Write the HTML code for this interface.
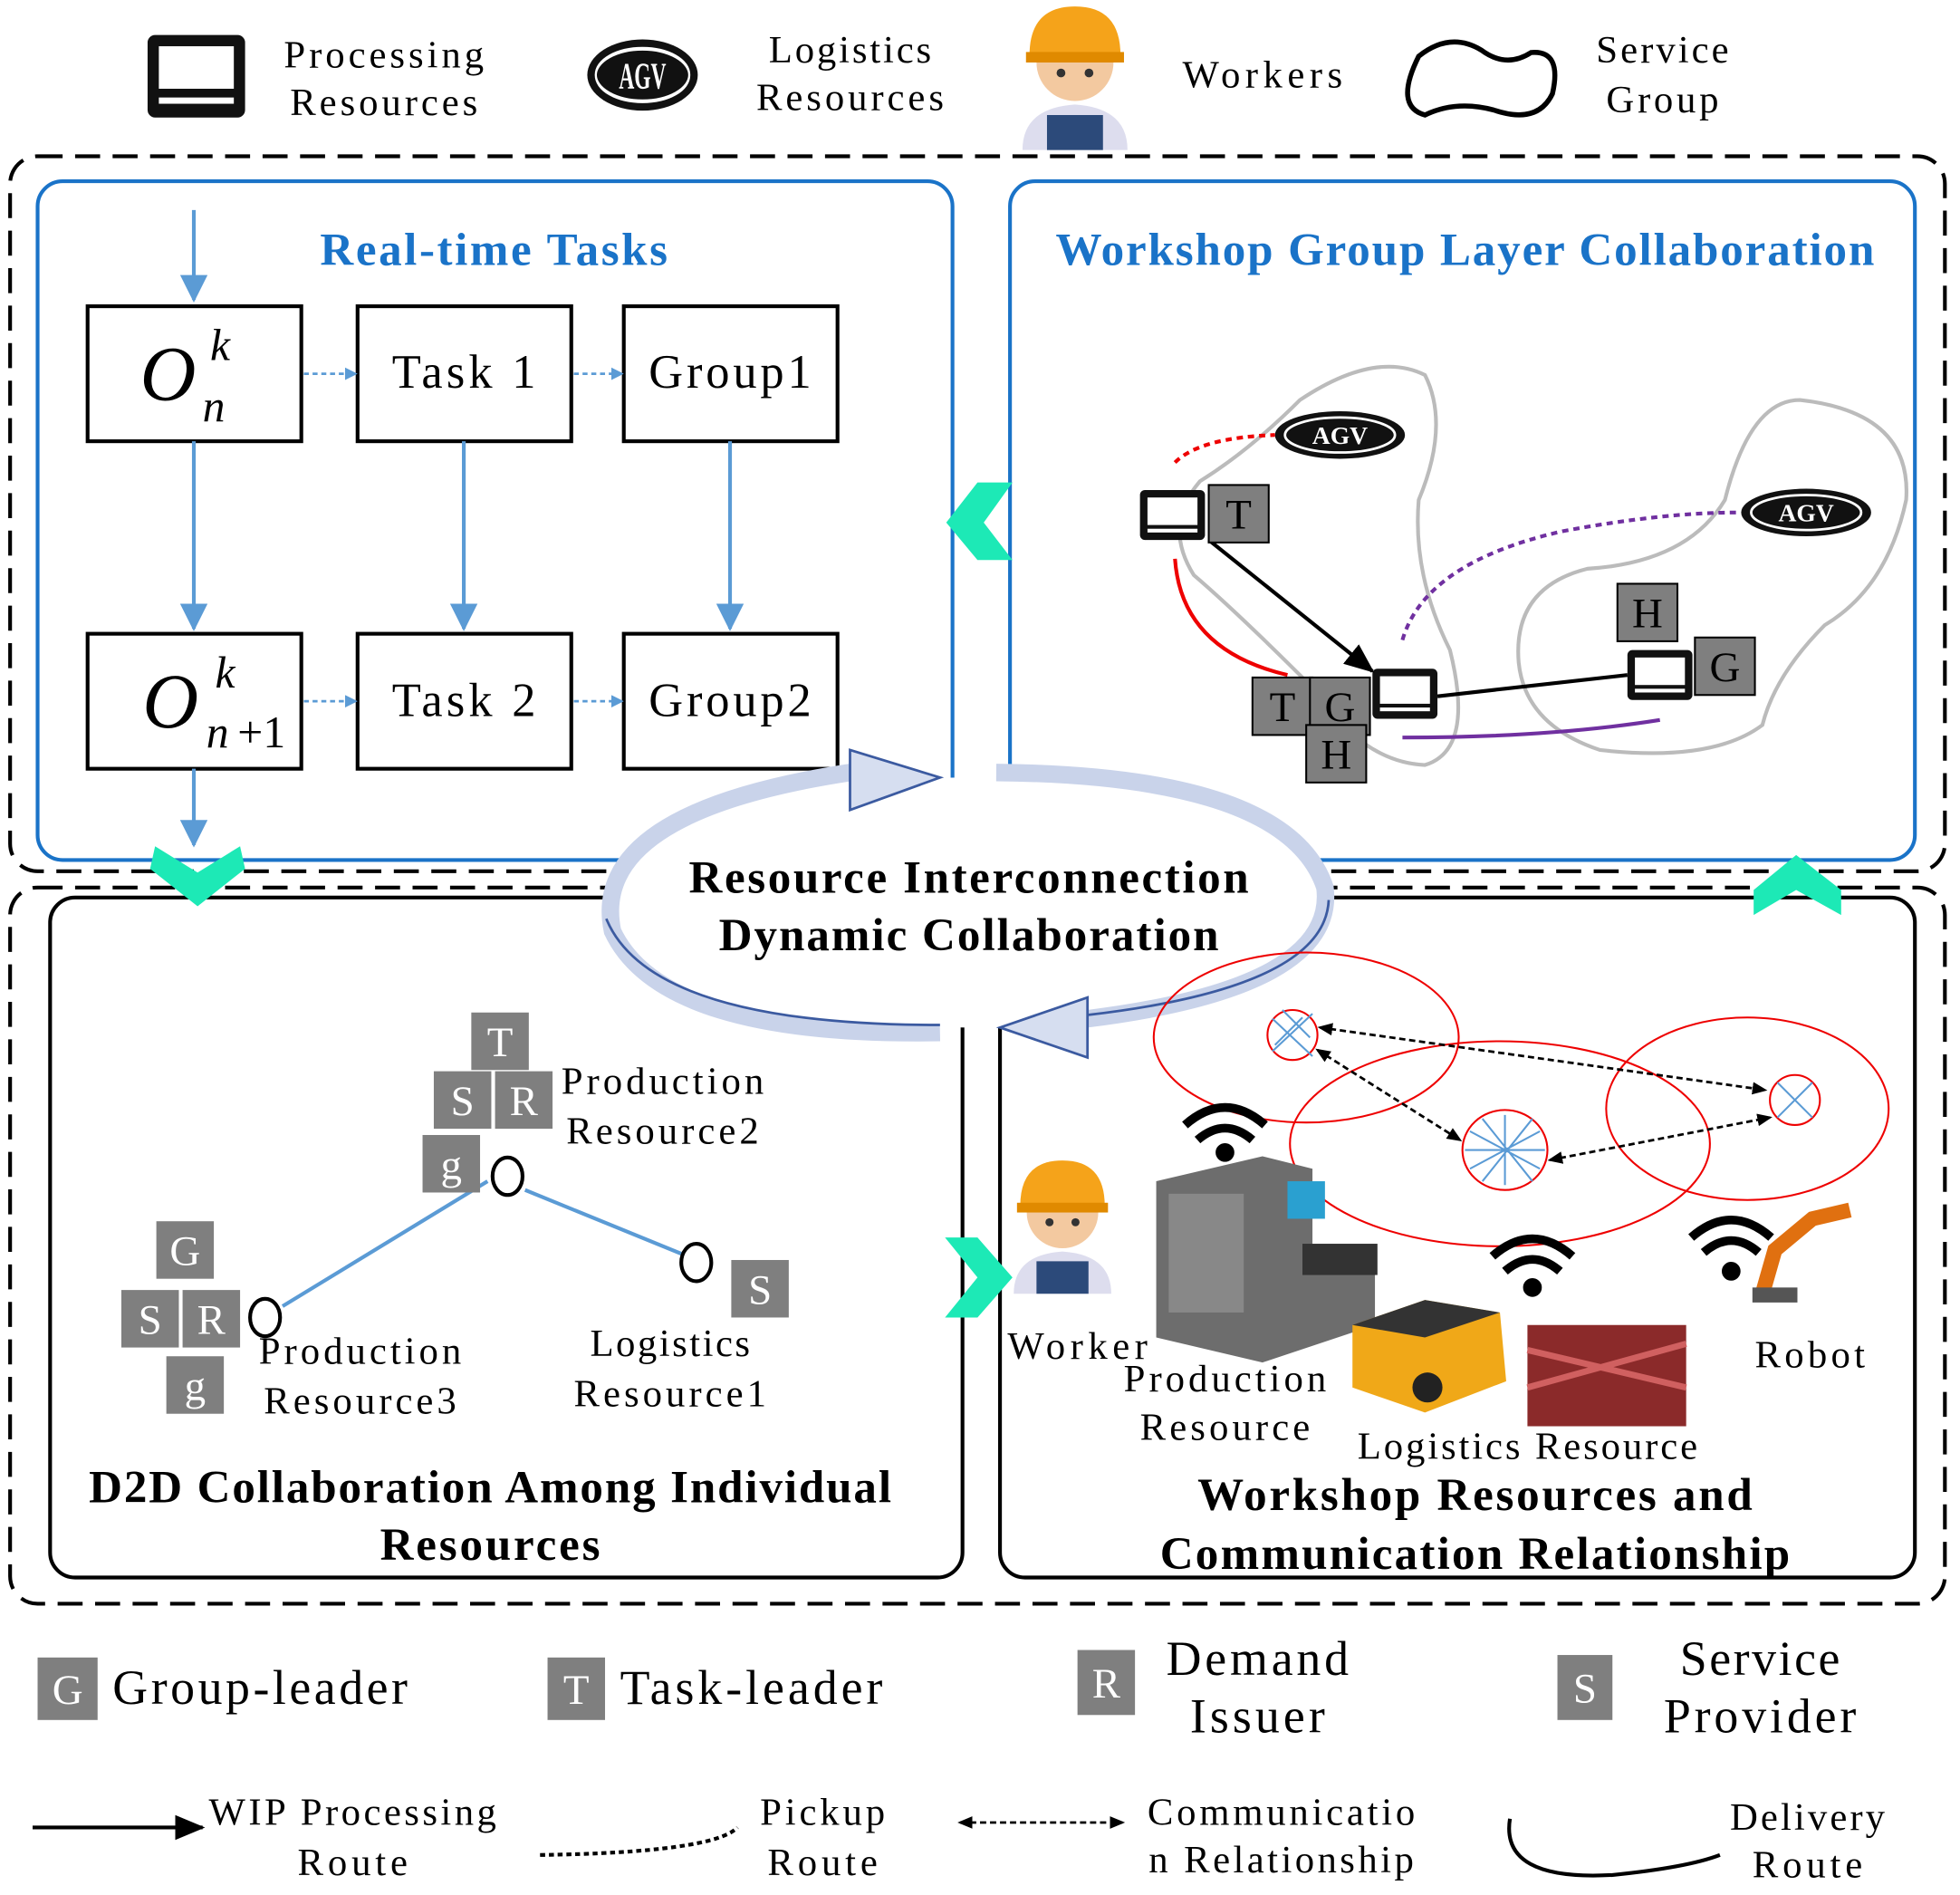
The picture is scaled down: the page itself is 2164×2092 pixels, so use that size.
<!DOCTYPE html>
<html><head><meta charset="utf-8"><style>
html,body{margin:0;padding:0;background:#fff}
svg{display:block}
text{font-family:"Liberation Serif",serif}
</style></head><body>
<svg width="2164" height="2092" viewBox="0 0 1568 1516" xmlns="http://www.w3.org/2000/svg">
<defs>
<marker id="ab" markerWidth="10" markerHeight="10" refX="8" refY="5" orient="auto" markerUnits="userSpaceOnUse"><path d="M0,0 L10,5 L0,10 z" fill="#5b9bd5"/></marker>
<marker id="ab2" markerWidth="22" markerHeight="22" refX="20" refY="11" orient="auto" markerUnits="userSpaceOnUse"><path d="M0,0 L22,11 L0,22 z" fill="#5b9bd5"/></marker>
<marker id="ak" markerWidth="14" markerHeight="14" refX="12" refY="7" orient="auto" markerUnits="userSpaceOnUse"><path d="M0,0 L14,7 L0,14 z" fill="#000"/></marker>
<marker id="ak2" markerWidth="24" markerHeight="24" refX="22" refY="12" orient="auto" markerUnits="userSpaceOnUse"><path d="M0,2 L24,12 L0,22 z" fill="#000"/></marker>
<marker id="as" markerWidth="12" markerHeight="12" refX="10" refY="6" orient="auto-start-reverse" markerUnits="userSpaceOnUse"><path d="M0,1 L12,6 L0,11 z" fill="#000"/></marker>
<g id="pc"><rect x="0" y="0" width="52" height="40" rx="4" fill="#111"/><rect x="6" y="6" width="40" height="22" fill="#fff"/><rect x="6" y="31" width="40" height="3" fill="#fff"/></g>
<g id="agv"><ellipse cx="0" cy="0" rx="52" ry="19" fill="#111"/><ellipse cx="0" cy="0" rx="44" ry="14" fill="none" stroke="#fff" stroke-width="2"/><text x="0" y="7" font-size="20" font-weight="bold" fill="#fff" text-anchor="middle" font-family="Liberation Sans,sans-serif">AGV</text></g>
<g id="wk"><circle cx="0" cy="0" r="22" fill="#f3c9a0"/><path d="M-26,-4 Q-26,-32 0,-32 Q26,-32 26,-4 Z" fill="#f5a31a"/><rect x="-28" y="-6" width="56" height="6" fill="#e08a00"/><circle cx="-8" cy="6" r="2.5" fill="#333"/><circle cx="8" cy="6" r="2.5" fill="#333"/><path d="M-30,50 Q-30,26 0,24 Q30,26 30,50 Z" fill="#dde"/><path d="M-16,50 L-16,30 L16,30 L16,50 Z" fill="#2c4a7a"/></g>
</defs>

<g transform="translate(118,28)"><rect width="78" height="66" rx="6" fill="#111"/><rect x="9" y="9" width="60" height="34" fill="#fff"/><rect x="9" y="50" width="60" height="5" fill="#fff"/></g>
<text x="307" y="54" font-size="31" text-anchor="middle" textLength="160">Processing</text>
<text x="307" y="92" font-size="31" text-anchor="middle" textLength="150">Resources</text>
<g transform="translate(514,60) scale(0.85,1.5)"><use href="#agv"/></g>
<text x="680" y="50" font-size="31" text-anchor="middle" textLength="130">Logistics</text>
<text x="680" y="88" font-size="31" text-anchor="middle" textLength="150">Resources</text>
<g transform="translate(860,50) scale(1.4)"><use href="#wk"/></g>
<text x="1010" y="70" font-size="31" text-anchor="middle" textLength="128">Workers</text>
<path d="M1135,45 Q1160,25 1185,40 Q1205,55 1225,42 Q1250,40 1242,75 Q1230,100 1195,88 Q1165,80 1140,92 Q1115,85 1135,45 Z" fill="none" stroke="#000" stroke-width="4"/>
<text x="1330" y="50" font-size="31" text-anchor="middle" textLength="106">Service</text>
<text x="1330" y="90" font-size="31" text-anchor="middle" textLength="90">Group</text>

<rect x="8" y="125" width="1548" height="572" rx="22" fill="none" stroke="#000" stroke-width="3" stroke-dasharray="20,10"/>
<rect x="8" y="710" width="1548" height="573" rx="22" fill="none" stroke="#000" stroke-width="3" stroke-dasharray="20,10"/>

<rect x="30" y="145" width="732" height="543" rx="20" fill="#fff" stroke="#1a73c8" stroke-width="3"/>
<text x="395" y="212" font-size="37" font-weight="bold" fill="#1a73c8" text-anchor="middle" textLength="278">Real-time Tasks</text>
<line x1="155" y1="168" x2="155" y2="240" stroke="#5b9bd5" stroke-width="3" marker-end="url(#ab2)"/>
<g fill="#fff" stroke="#000" stroke-width="3">
<rect x="70" y="245" width="171" height="108"/><rect x="286" y="245" width="171" height="108"/><rect x="499" y="245" width="171" height="108"/>
<rect x="70" y="507" width="171" height="108"/><rect x="286" y="507" width="171" height="108"/><rect x="499" y="507" width="171" height="108"/>
</g>
<text x="112" y="320" font-size="62" font-style="italic">O</text><text x="168" y="288" font-size="36" font-style="italic">k</text><text x="162" y="337" font-size="36" font-style="italic">n</text>
<text x="114" y="582" font-size="62" font-style="italic">O</text><text x="172" y="550" font-size="36" font-style="italic">k</text><text x="165" y="598" font-size="36" font-style="italic">n</text><text x="190" y="598" font-size="36">+1</text>
<text x="371" y="310" font-size="38" text-anchor="middle" textLength="115">Task 1</text>
<text x="584" y="310" font-size="38" text-anchor="middle" textLength="130">Group1</text>
<text x="371" y="573" font-size="38" text-anchor="middle" textLength="115">Task 2</text>
<text x="584" y="573" font-size="38" text-anchor="middle" textLength="130">Group2</text>
<g stroke="#5b9bd5" stroke-width="2" stroke-dasharray="4,3" fill="none">
<line x1="243" y1="299" x2="284" y2="299" marker-end="url(#ab)"/><line x1="459" y1="299" x2="497" y2="299" marker-end="url(#ab)"/>
<line x1="243" y1="561" x2="284" y2="561" marker-end="url(#ab)"/><line x1="459" y1="561" x2="497" y2="561" marker-end="url(#ab)"/>
</g>
<g stroke="#5b9bd5" stroke-width="3">
<line x1="155" y1="353" x2="155" y2="503" marker-end="url(#ab2)"/><line x1="371" y1="353" x2="371" y2="503" marker-end="url(#ab2)"/><line x1="584" y1="353" x2="584" y2="503" marker-end="url(#ab2)"/>
<line x1="155" y1="615" x2="155" y2="676" marker-end="url(#ab2)"/>
</g>

<rect x="808" y="145" width="724" height="543" rx="20" fill="#fff" stroke="#1a73c8" stroke-width="3"/>
<text x="1172" y="212" font-size="37" font-weight="bold" fill="#1a73c8" text-anchor="middle" textLength="655">Workshop Group Layer Collaboration</text>
<path d="M1040,320 Q1100,280 1140,300 Q1160,340 1135,400 Q1130,460 1160,520 Q1180,600 1140,612 Q1090,610 1050,550 Q990,490 955,460 Q930,420 960,385 Q1000,360 1040,320 Z" fill="none" stroke="#bbb" stroke-width="3"/>
<path d="M1440,320 Q1530,330 1525,400 Q1510,470 1460,500 Q1420,540 1410,580 Q1370,610 1280,600 Q1220,580 1215,530 Q1210,470 1270,455 Q1350,450 1380,400 Q1400,320 1440,320 Z" fill="none" stroke="#bbb" stroke-width="3"/>
<g transform="translate(1072,348)"><use href="#agv"/></g>
<g transform="translate(1445,410)"><use href="#agv"/></g>
<path d="M940,370 Q960,350 1020,348" fill="none" stroke="#e00" stroke-width="3" stroke-dasharray="5,4"/>
<path d="M940,447 Q945,520 1030,540" fill="none" stroke="#e00" stroke-width="3"/>
<path d="M1122,512 Q1140,450 1250,425 Q1330,410 1390,410" fill="none" stroke="#7030a0" stroke-width="3" stroke-dasharray="5,4"/>
<path d="M1122,590 Q1240,590 1328,576" fill="none" stroke="#7030a0" stroke-width="3"/>
<use href="#pc" x="912" y="392"/>
<use href="#pc" x="1098" y="535"/>
<use href="#pc" x="1302" y="520"/>
<line x1="967" y1="432" x2="1098" y2="537" stroke="#000" stroke-width="3" marker-end="url(#ak2)"/>
<line x1="1150" y1="557" x2="1302" y2="540" stroke="#000" stroke-width="3"/>
<g fill="#7f7f7f" stroke="#000" stroke-width="1.5">
<rect x="967" y="388" width="48" height="46"/><rect x="1294" y="467" width="48" height="46"/><rect x="1356" y="510" width="48" height="46"/>
<rect x="1002" y="542" width="48" height="46"/><rect x="1048" y="542" width="48" height="46"/><rect x="1045" y="580" width="48" height="46"/>
</g>
<g font-size="34" text-anchor="middle" fill="#000">
<text x="991" y="423">T</text><text x="1318" y="502">H</text><text x="1380" y="545">G</text>
<text x="1026" y="577">T</text><text x="1072" y="577">G</text><text x="1069" y="615">H</text>
</g>

<rect x="40" y="718" width="730" height="544" rx="20" fill="#fff" stroke="#000" stroke-width="3"/>
<rect x="800" y="718" width="732" height="544" rx="20" fill="#fff" stroke="#000" stroke-width="3"/>

<path d="M124,677 L158,698 L192,677 L196,695 L158,725 L120,695 Z" fill="#1de9b6"/>
<path d="M1403,732 L1437,712 L1473,732 L1473,712 L1437,684 L1403,712 Z" fill="#1de9b6"/>
<path d="M810,386 L787,418 L810,448 L782,448 L757,418 L782,386 Z" fill="#1de9b6"/>
<path d="M756,990 L782,990 L810,1022 L782,1054 L756,1054 L782,1022 Z" fill="#1de9b6"/>

<ellipse cx="775" cy="722" rx="290" ry="100" fill="#fff"/>
<path d="M752,826 Q530,830 490,745 Q470,650 680,618" fill="none" stroke="#c9d3ea" stroke-width="14"/>
<path d="M680,600 L752,622 L680,648 Z" fill="#d6def0" stroke="#3b5aa0" stroke-width="2"/>
<path d="M797,618 Q1030,620 1060,710 Q1070,790 870,815" fill="none" stroke="#c9d3ea" stroke-width="14"/>
<path d="M870,798 L800,822 L870,846 Z" fill="#d6def0" stroke="#3b5aa0" stroke-width="2"/>
<path d="M752,820 Q520,820 485,735 M1063,720 Q1060,790 870,812" fill="none" stroke="#3b5aa0" stroke-width="2"/>
<text x="775" y="714" font-size="37" font-weight="bold" text-anchor="middle" textLength="448">Resource Interconnection</text>
<text x="775" y="760" font-size="37" font-weight="bold" text-anchor="middle" textLength="400">Dynamic Collaboration</text>

<line x1="226" y1="1045" x2="390" y2="945" stroke="#5b9bd5" stroke-width="3"/>
<line x1="420" y1="952" x2="545" y2="1003" stroke="#5b9bd5" stroke-width="3"/>
<g fill="none" stroke="#000" stroke-width="3"><ellipse cx="406" cy="941" rx="12" ry="15"/><ellipse cx="212" cy="1054" rx="12" ry="15"/><ellipse cx="557" cy="1010" rx="12" ry="15"/></g>
<g fill="#7f7f7f">
<rect x="377" y="810" width="46" height="46"/><rect x="347" y="857" width="46" height="46"/><rect x="396" y="857" width="46" height="46"/><rect x="338" y="908" width="46" height="46"/>
<rect x="125" y="977" width="46" height="46"/><rect x="97" y="1032" width="46" height="46"/><rect x="146" y="1032" width="46" height="46"/><rect x="133" y="1085" width="46" height="46"/>
<rect x="585" y="1008" width="46" height="46"/>
</g>
<g font-size="34" fill="#fff" text-anchor="middle">
<text x="400" y="845">T</text><text x="370" y="892">S</text><text x="419" y="892">R</text><text x="361" y="943">g</text>
<text x="148" y="1012">G</text><text x="120" y="1067">S</text><text x="169" y="1067">R</text><text x="156" y="1120">g</text>
<text x="608" y="1043">S</text>
</g>
<g font-size="31" text-anchor="middle">
<text x="530" y="875" textLength="162">Production</text><text x="530" y="915" textLength="154">Resource2</text>
<text x="288" y="1091" textLength="162">Production</text><text x="288" y="1131" textLength="154">Resource3</text>
<text x="536" y="1085" textLength="128">Logistics</text><text x="536" y="1125" textLength="154">Resource1</text>
</g>
<text x="392" y="1202" font-size="37" font-weight="bold" text-anchor="middle" textLength="642">D2D Collaboration Among Individual</text>
<text x="392" y="1248" font-size="37" font-weight="bold" text-anchor="middle" textLength="176">Resources</text>

<g fill="none" stroke="#e00" stroke-width="1.5">
<ellipse cx="1045" cy="830" rx="122" ry="68"/><ellipse cx="1200" cy="915" rx="168" ry="82"/><ellipse cx="1398" cy="887" rx="113" ry="73"/>
</g>
<g stroke="#e00" stroke-width="1.5" fill="#fff">
<circle cx="1034" cy="828" r="20"/><ellipse cx="1204" cy="920" rx="34" ry="32"/><circle cx="1436" cy="880" r="20"/>
</g>
<g stroke="#5b9bd5" stroke-width="1.5">
<path d="M1018,815 L1050,845 M1018,841 L1050,811 M1026,808 L1048,830 M1020,836 L1042,814" />
<path d="M1176,905 L1232,935 M1176,935 L1232,905 M1186,895 L1226,945 M1186,945 L1226,895 M1172,920 L1236,920 M1204,892 L1204,948"/>
<path d="M1422,866 L1450,894 M1422,894 L1450,866"/>
</g>
<g stroke="#000" stroke-width="2" stroke-dasharray="5,3" fill="none">
<line x1="1056" y1="822" x2="1412" y2="872" marker-start="url(#as)" marker-end="url(#as)"/>
<line x1="1054" y1="840" x2="1168" y2="912" marker-start="url(#as)" marker-end="url(#as)"/>
<line x1="1240" y1="928" x2="1416" y2="894" marker-start="url(#as)" marker-end="url(#as)"/>
</g>
<g fill="none" stroke="#000" stroke-width="7">
<path d="M948,900 Q980,872 1012,900"/><path d="M958,912 Q980,893 1002,912"/><circle cx="980" cy="922" r="4" fill="#000"/>
<path d="M1194,1005 Q1226,977 1258,1005"/><path d="M1204,1017 Q1226,998 1248,1017"/><circle cx="1226" cy="1030" r="4" fill="#000"/>
<path d="M1353,990 Q1385,962 1417,990"/><path d="M1363,1002 Q1385,983 1407,1002"/><circle cx="1385" cy="1017" r="4" fill="#000"/>
</g>
<g transform="translate(850,970) scale(1.3)"><use href="#wk"/></g>
<path d="M925,945 L1010,925 L1050,935 L1050,1010 L1100,1010 L1100,1060 L1010,1090 L925,1070 Z" fill="#6d6d6d"/>
<rect x="935" y="955" width="60" height="95" fill="#888"/>
<rect x="1042" y="995" width="60" height="25" fill="#333"/>
<rect x="1030" y="945" width="30" height="30" fill="#2aa0d0"/>
<path d="M1082,1060 L1140,1040 L1200,1050 L1205,1105 L1140,1130 L1082,1110 Z" fill="#f0a818"/>
<path d="M1082,1060 L1140,1040 L1200,1050 L1140,1070 Z" fill="#333"/>
<circle cx="1142" cy="1110" r="12" fill="#222"/>
<rect x="1222" y="1060" width="127" height="81" fill="#8b2a2a"/>
<path d="M1222,1080 L1349,1110 M1222,1110 L1349,1075" stroke="#d06060" stroke-width="5"/>
<path d="M1410,1035 L1420,1000 L1450,975 L1480,968" stroke="#e07010" stroke-width="12" fill="none"/>
<rect x="1402" y="1030" width="36" height="12" fill="#555"/>
<g font-size="31" text-anchor="middle">
<text x="862" y="1087" textLength="112">Worker</text>
<text x="980" y="1113" textLength="162">Production</text><text x="980" y="1152" textLength="136">Resource</text>
<text x="1222" y="1167" textLength="272">Logistics Resource</text>
<text x="1448" y="1094" textLength="88">Robot</text>
</g>
<text x="1180" y="1208" font-size="37" font-weight="bold" text-anchor="middle" textLength="444">Workshop Resources and</text>
<text x="1180" y="1255" font-size="37" font-weight="bold" text-anchor="middle" textLength="504">Communication Relationship</text>

<g fill="#7f7f7f">
<rect x="30" y="1326" width="48" height="50"/><rect x="438" y="1326" width="46" height="50"/><rect x="862" y="1320" width="46" height="52"/><rect x="1246" y="1324" width="44" height="52"/>
</g>
<g font-size="34" fill="#fff" text-anchor="middle">
<text x="54" y="1363">G</text><text x="461" y="1363">T</text><text x="885" y="1358">R</text><text x="1268" y="1362">S</text>
</g>
<g font-size="39">
<text x="90" y="1363" textLength="236">Group-leader</text><text x="496" y="1363" textLength="210">Task-leader</text>
<text x="1006" y="1340" text-anchor="middle" textLength="146">Demand</text><text x="1006" y="1386" text-anchor="middle" textLength="108">Issuer</text>
<text x="1408" y="1340" text-anchor="middle" textLength="128">Service</text><text x="1408" y="1386" text-anchor="middle" textLength="154">Provider</text>
</g>
<line x1="26" y1="1462" x2="162" y2="1462" stroke="#000" stroke-width="3" marker-end="url(#ak2)"/>
<path d="M432,1484 Q570,1482 590,1462" fill="none" stroke="#000" stroke-width="3" stroke-dasharray="4,3"/>
<line x1="768" y1="1458" x2="898" y2="1458" stroke="#000" stroke-width="2" stroke-dasharray="5,3" marker-start="url(#as)" marker-end="url(#as)"/>
<path d="M1208,1455 Q1200,1505 1290,1500 Q1350,1494 1376,1484" fill="none" stroke="#000" stroke-width="3"/>
<g font-size="31" text-anchor="middle">
<text x="282" y="1460" textLength="230">WIP Processing</text><text x="282" y="1500" textLength="88">Route</text>
<text x="658" y="1460" textLength="100">Pickup</text><text x="658" y="1500" textLength="88">Route</text>
<text x="1025" y="1460" textLength="214">Communicatio</text><text x="1025" y="1498" textLength="212">n Relationship</text>
<text x="1446" y="1464" textLength="124">Delivery</text><text x="1446" y="1502" textLength="88">Route</text>
</g>
</svg>
</body></html>
